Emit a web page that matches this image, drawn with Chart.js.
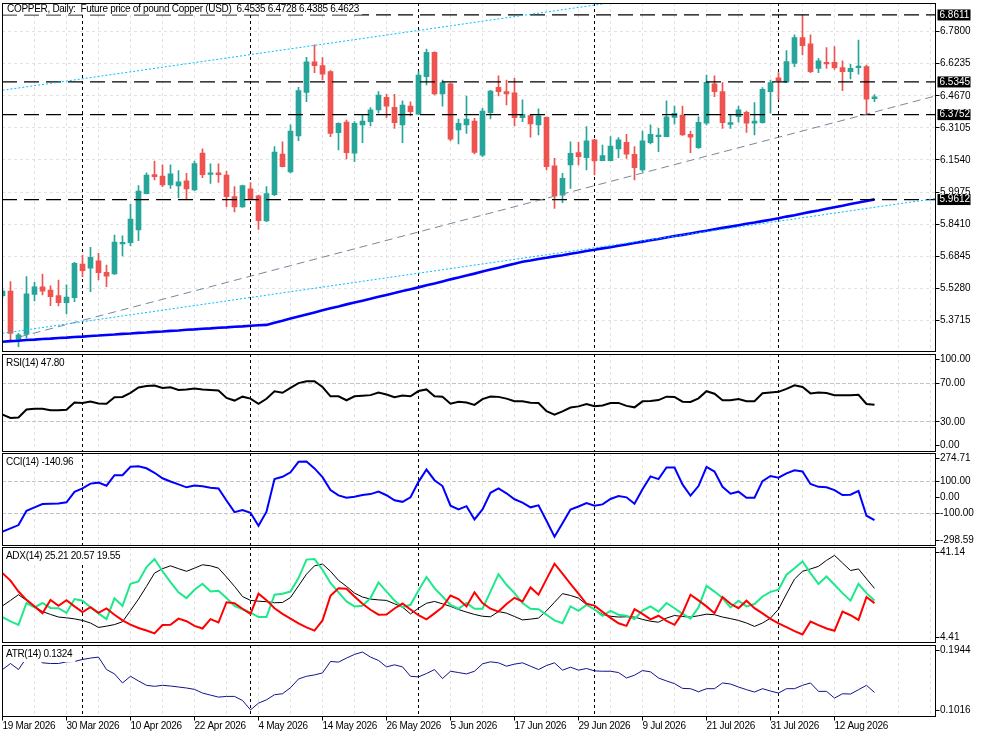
<!DOCTYPE html>
<html>
<head>
<meta charset="utf-8">
<title>COPPER Daily</title>
<script src="https://cdn.jsdelivr.net/npm/chart.js@4.4.1/dist/chart.umd.min.js"></script>
<style>
  body { margin: 0; background: #fff; }
  #wrap { position: relative; width: 983px; height: 737px; overflow: hidden; background: #fff; }
  #wrap canvas { position: absolute; left: 0; }
</style>
</head>
<body>
<div id="wrap">
  <canvas id="mainPane"></canvas>
  <canvas id="rsiPane"></canvas>
  <canvas id="cciPane"></canvas>
  <canvas id="adxPane"></canvas>
  <canvas id="atrPane"></canvas>
</div>
<script>
// ---- data (daily bars, 19 Mar 2026 .. 19 Aug 2026) ----
const open = [
  5.493, 5.515, 5.276, 5.304, 5.499, 5.535, 5.520, 5.493, 5.458, 5.483,
  5.647, 5.626, 5.662, 5.606, 5.598, 5.745, 5.751, 5.813, 5.990, 6.083,
  6.076, 6.032, 6.027, 6.052, 6.008, 6.188, 6.084, 6.091, 6.081, 5.975,
  5.925, 6.013, 5.979, 5.857, 5.985, 6.183, 6.096, 6.271, 6.484, 6.633,
  6.614, 6.585, 6.287, 6.339, 6.187, 6.325, 6.341, 6.398, 6.460, 6.411,
  6.325, 6.417, 6.378, 6.560, 6.679, 6.476, 6.525, 6.300, 6.325, 6.344,
  6.178, 6.385, 6.508, 6.487, 6.482, 6.360, 6.370, 6.325, 6.362, 6.126,
  5.983, 6.130, 6.190, 6.165, 6.252, 6.151, 6.151, 6.208, 6.240, 6.182,
  6.105, 6.239, 6.268, 6.268, 6.362, 6.373, 6.279, 6.214, 6.333, 6.525,
  6.487, 6.328, 6.365, 6.386, 6.333, 6.336, 6.487, 6.555, 6.533, 6.625,
  6.751, 6.720, 6.601, 6.630, 6.630, 6.604, 6.585, 6.604, 6.609, 6.4535
];
const high = [
  5.524, 5.561, 5.309, 5.585, 5.558, 5.598, 5.540, 5.569, 5.545, 5.655,
  5.691, 5.728, 5.699, 5.642, 5.788, 5.784, 5.938, 6.029, 6.092, 6.149,
  6.130, 6.130, 6.102, 6.089, 6.149, 6.208, 6.135, 6.135, 6.100, 6.024,
  6.032, 6.044, 5.983, 6.024, 6.219, 6.243, 6.325, 6.508, 6.655, 6.715,
  6.653, 6.590, 6.335, 6.349, 6.341, 6.377, 6.409, 6.487, 6.474, 6.474,
  6.442, 6.438, 6.585, 6.695, 6.681, 6.544, 6.528, 6.354, 6.466, 6.357,
  6.406, 6.494, 6.564, 6.544, 6.552, 6.447, 6.373, 6.403, 6.365, 6.162,
  6.089, 6.243, 6.240, 6.317, 6.255, 6.227, 6.268, 6.263, 6.279, 6.219,
  6.295, 6.325, 6.308, 6.442, 6.417, 6.417, 6.295, 6.365, 6.568, 6.564,
  6.531, 6.373, 6.417, 6.393, 6.434, 6.507, 6.544, 6.580, 6.687, 6.764,
  6.8611, 6.764, 6.650, 6.702, 6.707, 6.637, 6.620, 6.739, 6.617, 6.4728
];
const low = [
  5.484, 5.268, 5.244, 5.285, 5.467, 5.496, 5.444, 5.442, 5.403, 5.463,
  5.585, 5.512, 5.569, 5.536, 5.596, 5.686, 5.735, 5.761, 5.988, 6.057,
  6.024, 6.016, 5.970, 5.962, 6.005, 6.068, 6.040, 6.045, 5.927, 5.901,
  5.923, 5.962, 5.816, 5.853, 5.980, 6.120, 6.091, 6.248, 6.438, 6.580,
  6.544, 6.268, 6.203, 6.159, 6.146, 6.239, 6.320, 6.382, 6.360, 6.308,
  6.239, 6.369, 6.376, 6.520, 6.471, 6.417, 6.248, 6.232, 6.284, 6.183,
  6.170, 6.354, 6.466, 6.422, 6.320, 6.341, 6.265, 6.276, 6.105, 5.918,
  5.946, 6.016, 6.130, 6.105, 6.081, 6.149, 6.149, 6.165, 6.162, 6.057,
  6.097, 6.232, 6.195, 6.266, 6.330, 6.274, 6.190, 6.211, 6.325, 6.463,
  6.308, 6.308, 6.338, 6.289, 6.276, 6.334, 6.382, 6.450, 6.531, 6.609,
  6.666, 6.580, 6.580, 6.601, 6.596, 6.492, 6.549, 6.573, 6.3752, 6.4385
];
const close = [
  5.515, 5.309, 5.301, 5.501, 5.536, 5.515, 5.488, 5.458, 5.486, 5.650,
  5.614, 5.680, 5.605, 5.588, 5.754, 5.753, 5.866, 6.003, 6.081, 6.073,
  6.032, 6.086, 6.047, 6.013, 6.136, 6.083, 6.092, 6.083, 5.975, 5.925,
  6.029, 5.964, 5.858, 5.990, 6.193, 6.122, 6.295, 6.492, 6.632, 6.614,
  6.573, 6.284, 6.333, 6.190, 6.333, 6.344, 6.398, 6.471, 6.417, 6.336,
  6.422, 6.390, 6.568, 6.679, 6.476, 6.531, 6.256, 6.333, 6.354, 6.191,
  6.393, 6.490, 6.487, 6.476, 6.360, 6.377, 6.330, 6.369, 6.122, 5.979,
  6.065, 6.187, 6.170, 6.247, 6.149, 6.175, 6.222, 6.252, 6.182, 6.117,
  6.247, 6.279, 6.276, 6.365, 6.382, 6.276, 6.265, 6.338, 6.533, 6.487,
  6.336, 6.336, 6.398, 6.333, 6.344, 6.499, 6.531, 6.541, 6.634, 6.751,
  6.711, 6.585, 6.637, 6.622, 6.604, 6.585, 6.601, 6.612, 6.451, 6.4623
];
const movingAvg = [
  5.268, 5.271, 5.273, 5.276, 5.278, 5.281, 5.283, 5.286, 5.288, 5.291,
  5.293, 5.296, 5.298, 5.301, 5.303, 5.306, 5.308, 5.311, 5.313, 5.316,
  5.318, 5.321, 5.323, 5.326, 5.328, 5.331, 5.333, 5.336, 5.338, 5.341,
  5.343, 5.346, 5.348, 5.350, 5.360, 5.370, 5.381, 5.391, 5.401, 5.411,
  5.421, 5.431, 5.440, 5.450, 5.459, 5.468, 5.477, 5.487, 5.496, 5.505,
  5.515, 5.524, 5.533, 5.543, 5.552, 5.562, 5.572, 5.581, 5.591, 5.600,
  5.610, 5.620, 5.629, 5.639, 5.648, 5.658, 5.664, 5.671, 5.677, 5.684,
  5.690, 5.697, 5.703, 5.710, 5.716, 5.723, 5.729, 5.736, 5.742, 5.749,
  5.756, 5.763, 5.769, 5.776, 5.783, 5.789, 5.796, 5.803, 5.809, 5.816,
  5.823, 5.829, 5.836, 5.843, 5.849, 5.856, 5.863, 5.870, 5.878, 5.885,
  5.893, 5.901, 5.908, 5.916, 5.924, 5.931, 5.939, 5.947, 5.954, 5.962
];
const rsi = [
  37.5, 34, 34.5, 42.7, 43.5, 43.5, 42, 42, 42.5, 50,
  49.5, 51, 49, 48.7, 55.4, 55.7, 60, 65.5, 67, 67.5,
  65, 65.6, 63, 63.5, 64.5, 63.3, 63, 62.3, 54.7, 52,
  56, 54, 48.7, 53.8, 61.6, 60, 65, 70, 72, 72,
  66, 56.4, 56.4, 52.3, 56.4, 57, 57.6, 60.3, 58.2, 55.4,
  57.2, 56.4, 61.8, 63.5, 56.5, 56, 48.8, 50.8, 50, 47.5,
  53.5, 56.2, 55.8, 54, 51.3, 51.3, 49.7, 49.5, 41, 37.5,
  40.8, 44.8, 46, 48.4, 46.1, 47, 49.5, 49.6, 46.5, 45,
  51.2, 51.6, 52.5, 56, 55.7, 50.8, 50.6, 54.3, 61.6, 59,
  52.3, 52.3, 53.6, 51.3, 51.3, 59.6, 60.4, 61, 64, 67.8,
  66, 59.4, 60.4, 59.8, 57.4, 57.4, 57.6, 58, 48.5, 47.80
];
const cci = [
  -213, -192, -172, -83, -62, -42, -40, -38, -31, 34,
  55, 85, 91, 72, 137, 137, 189, 193, 180, 152,
  118, 98, 80, 62, 73, 68, 60, 55, -20, -92,
  -79, -96, -176, -89, 113, 127, 155, 220, 222, 179,
  125, 45, 12, -3, 4, 14, 20, 36, 13, -18,
  -28, 0, 96, 172, 106, 70, -52, -75, -55, -137,
  -75, 28, 56, 25, -12, -33, -62, -50, -145, -244,
  -160, -76, -57, -35, -52, -44, -10, 8, 0, -40,
  50, 130, 113, 185, 185, 80, 10, 70, 188, 160,
  65, 22, 35, -3, -3, 100, 132, 122, 148, 168,
  160, 83, 65, 62, 45, 14, 16, 40, -114, -140.96
];
const adx = [
  18.5, 20.6, 22.8, 20.6, 18.3, 16.3, 15.2, 14.2, 13.9, 13.5,
  12.9, 11.9, 10.2, 10.7, 11.3, 12.4, 16.7, 21.1, 26.0, 31.1,
  32.8, 33.9, 32.8, 31.8, 33.0, 34.3, 33.9, 33.0, 29.6, 26.0,
  22.1, 20.6, 20.3, 20.1, 19.7, 19.8, 21.7, 26.2, 30.7, 33.9,
  34.6, 31.8, 28.3, 26.0, 23.4, 21.9, 21.1, 20.8, 20.6, 19.3,
  18.0, 15.4, 17.6, 19.5, 20.2, 19.3, 18.3, 17.1, 16.1, 15.2,
  14.5, 14.3, 16.3, 15.7, 14.4, 13.1, 13.4, 13.8, 16.6, 19.9,
  23.2, 22.5, 21.5, 19.0, 17.0, 15.2, 14.5, 14.2, 14.3, 14.2,
  13.3, 12.6, 12.2, 13.8, 14.8, 14.4, 14.2, 14.7, 15.3, 15.1,
  14.2, 13.6, 12.9, 11.9, 10.6, 11.9, 13.8, 17.2, 23.1, 28.8,
  31.8, 32.7, 33.7, 36.0, 37.9, 35.0, 32.1, 32.7, 28.9, 25.21
];
const plusDI = [
  14.2, 12.5, 11.2, 19.6, 17.9, 19.6, 17.7, 17.6, 15.8, 21.1,
  20.5, 18.0, 15.6, 13.4, 21.4, 18.5, 27.0, 27.9, 33.4, 36.5,
  31.8, 27.6, 23.7, 21.5, 24.7, 27.0, 24.0, 24.3, 21.5, 18.5,
  17.2, 15.9, 14.2, 14.2, 22.8, 23.2, 24.0, 29.2, 36.3, 36.5,
  32.4, 27.3, 23.7, 20.2, 18.3, 18.5, 21.5, 27.5, 24.0, 20.6,
  18.0, 18.9, 24.4, 29.6, 25.3, 22.1, 18.9, 17.4, 19.6, 17.4,
  17.4, 24.0, 30.7, 26.6, 23.4, 19.6, 17.4, 17.2, 15.1, 12.9,
  11.8, 18.3, 16.6, 18.9, 17.2, 14.7, 16.6, 15.1, 14.7, 13.4,
  16.7, 18.3, 16.3, 19.6, 17.6, 15.4, 13.6, 17.9, 26.2, 24.0,
  21.5, 17.9, 20.5, 18.3, 19.2, 22.1, 23.9, 24.7, 30.5, 33.0,
  35.6, 31.1, 26.9, 29.8, 26.6, 23.4, 20.5, 27.0, 23.4, 20.57
];
const minusDI = [
  31.1, 28.2, 24.0, 20.8, 18.3, 15.7, 20.8, 18.5, 20.7, 18.3,
  16.1, 18.0, 15.8, 17.5, 15.1, 12.9, 11.3, 10.0, 9.0, 7.9,
  11.1, 11.2, 13.6, 12.6, 10.8, 9.8, 13.4, 12.1, 19.9, 19.5,
  17.4, 15.4, 23.2, 20.7, 17.6, 15.4, 13.6, 11.8, 10.2, 9.0,
  12.9, 22.4, 25.3, 25.1, 22.1, 19.3, 17.0, 15.1, 15.2, 17.5,
  19.4, 17.1, 14.9, 13.3, 15.6, 18.0, 22.5, 21.1, 18.3, 23.7,
  19.6, 17.4, 16.3, 19.2, 21.6, 20.2, 25.6, 22.8, 28.8, 34.7,
  30.9, 27.0, 23.2, 19.3, 18.6, 16.2, 13.9, 11.8, 10.8, 17.2,
  15.4, 13.3, 14.7, 12.7, 11.2, 15.7, 22.8, 20.6, 18.3, 15.7,
  21.9, 19.3, 17.6, 20.5, 17.6, 15.6, 13.5, 11.8, 10.3, 8.8,
  7.5, 12.5, 11.1, 9.8, 8.9, 16.3, 14.9, 13.1, 21.9, 19.55
];
const atr = [
  0.1623, 0.1702, 0.1623, 0.1777, 0.1799, 0.1711, 0.1702, 0.1702, 0.1724, 0.1729,
  0.1755, 0.1773, 0.1786, 0.1623, 0.1566, 0.1448, 0.1535, 0.1474, 0.1417, 0.1404,
  0.1417, 0.1408, 0.1395, 0.1382, 0.1364, 0.1316, 0.1289, 0.1263, 0.1272, 0.1272,
  0.1219, 0.1096, 0.1184, 0.1228, 0.1294, 0.1307, 0.1386, 0.1500, 0.1535, 0.1553,
  0.1579, 0.1729, 0.1720, 0.1773, 0.1821, 0.1852, 0.1786, 0.1742, 0.1658, 0.1685,
  0.1658, 0.1535, 0.1527, 0.1571, 0.1623, 0.1505, 0.1601, 0.1584, 0.1566, 0.1601,
  0.1698, 0.1724, 0.1711, 0.1667, 0.1694, 0.1711, 0.1667, 0.1623, 0.1676, 0.1711,
  0.1615, 0.1654, 0.1615, 0.1637, 0.1606, 0.1601, 0.1601, 0.1584, 0.1513, 0.1549,
  0.1610, 0.1593, 0.1513, 0.1474, 0.1439, 0.1377, 0.1373, 0.1333, 0.1373, 0.1373,
  0.1448, 0.1434, 0.1395, 0.1360, 0.1329, 0.1373, 0.1342, 0.1316, 0.1373, 0.1373,
  0.1417, 0.1448, 0.1338, 0.1338, 0.1250, 0.1307, 0.1303, 0.1360, 0.1417, 0.1324
];

// drawn objects: [bar, price]
const channelTop = [[0, 6.494], [116.6, 7.148]];
const channelBottom = [[0, 5.309], [116.6, 5.966]];
const trendLine = [[2.2, 5.292], [116.6, 6.466]];
const hLevels = [6.8611, 6.5345, 6.3752, 5.9612];
const vLines = [10, 31, 52, 74, 97];

// axis ticks
const dateLabels = ['19 Mar 2026', '30 Mar 2026', '10 Apr 2026', '22 Apr 2026', '4 May 2026',
  '14 May 2026', '26 May 2026', '5 Jun 2026', '17 Jun 2026', '29 Jun 2026', '9 Jul 2026',
  '21 Jul 2026', '31 Jul 2026', '12 Aug 2026'];
const priceTicks = [5.3715, 5.5280, 5.6845, 5.8410, 5.9975, 6.1540, 6.3105, 6.4670, 6.6235, 6.7800];
const rsiTicks = [100, 70, 30, 0];
const cciTicks = [274.71, 100, 0, -100, -298.59];
const adxTicks = [41.14, 4.41];
const atrTicks = [0.1944, 0.1016];

// ---- layout ----
const X_MIN = -0.0625, X_MAX = 116.625;
const LABEL_EVERY = 8, GRID_EVERY = 4;
const UP = '#26a69a', DOWN = '#ef5350';
const FONT = '10px "Liberation Sans", Arial, sans-serif';

function hline(ctx, x1, y1, x2, y2) {
  ctx.beginPath(); ctx.moveTo(x1, y1); ctx.lineTo(x2, y2); ctx.stroke();
}

function decor(cfg) {
  return {
    id: 'decor',
    beforeDatasetsDraw(chart) {
      const { ctx, chartArea: a } = chart;
      const xs = chart.scales.x, ys = chart.scales.y;
      ctx.save();
      ctx.beginPath();
      ctx.rect(a.left, a.top, a.right - a.left, a.bottom - a.top);
      ctx.clip();
      ctx.lineWidth = 1;
      ctx.strokeStyle = '#e2e2e2';
      ctx.setLineDash([3, 3]);
      for (let i = 0; i <= X_MAX; i += GRID_EVERY) {
        const px = Math.floor(xs.getPixelForValue(i)) + 0.5;
        hline(ctx, px, a.top, px, a.bottom);
      }
      ctx.strokeStyle = cfg.gridColor || '#e2e2e2';
      ctx.setLineDash(cfg.gridDash || [3, 3]);
      (cfg.grid || []).forEach(v => {
        const py = Math.floor(ys.getPixelForValue(v)) + 0.5;
        hline(ctx, a.left, py, a.right, py);
      });
      ctx.strokeStyle = '#000';
      ctx.setLineDash([3, 3]);
      vLines.forEach(b => {
        const px = Math.floor(xs.getPixelForValue(b)) + 0.5;
        hline(ctx, px, a.top, px, a.bottom);
      });
      ctx.restore();
    },
    afterDraw(chart) {
      const { ctx, chartArea: a } = chart;
      const xs = chart.scales.x, ys = chart.scales.y;
      ctx.save();
      ctx.lineWidth = 1;
      ctx.strokeStyle = '#000';
      ctx.setLineDash([]);
      const l = Math.floor(a.left) + 0.5, r = Math.floor(a.right) + 0.5;
      const t = Math.floor(a.top) + 0.5, b = Math.floor(a.bottom) + 0.5;

      ctx.font = FONT;
      ctx.textBaseline = 'middle';
      ctx.textAlign = 'left';

      // title on a white strip, like the terminal does
      ctx.letterSpacing = '-0.3px';
      const tw = ctx.measureText(cfg.title).width;
      ctx.fillStyle = '#fff';
      ctx.fillRect(a.left + 1, a.top + 1, tw + cfg.titleX + 2, cfg.titleY * 2 - 2);
      ctx.fillStyle = '#000';
      ctx.fillText(cfg.title, a.left + cfg.titleX, a.top + cfg.titleY);

      ctx.strokeRect(l, t, r - l, b - t);

      ctx.letterSpacing = '0px';
      cfg.ticks.forEach(v => {
        const py = ys.getPixelForValue(v);
        const ly = Math.min(Math.max(py, a.top + 5), a.bottom - 5.5);
        hline(ctx, r, Math.floor(ly) + 0.5, r + 4, Math.floor(ly) + 0.5);
        ctx.fillText(v.toFixed(cfg.digits), r + 4.5, ly);
      });

      (cfg.levels || []).forEach(v => {
        const py = ys.getPixelForValue(v);
        ctx.fillStyle = '#000';
        ctx.fillRect(r + 2, py - 5.5, 33, 11);
        ctx.fillStyle = '#fff';
        ctx.fillText(v.toFixed(4), r + 4, py);
      });

      ctx.fillStyle = '#000';
      if (cfg.dates) {
        ctx.letterSpacing = '-0.3px';
        dateLabels.forEach((txt, k) => {
          const px = Math.floor(xs.getPixelForValue(k * LABEL_EVERY)) + 0.5;
          hline(ctx, px, b, px, b + 4);
          ctx.fillText(txt, px, b + 9.5);
        });
      }
      ctx.restore();
    }
  };
}

function series(values) {
  return values.map((v, i) => ({ x: i, y: v }));
}
function segment(points) {
  return points.map(p => ({ x: p[0], y: p[1] }));
}
function lineSet(data, color, width, extra) {
  return Object.assign({
    type: 'line', data: data, borderColor: color, borderWidth: width,
    pointRadius: 0, tension: 0, fill: false, clip: 0, order: 0
  }, extra || {});
}

function pane(id, top, height, pad, type, datasets, yMin, yMax, cfg) {
  const canvas = document.getElementById(id);
  canvas.width = 983;
  canvas.height = height;
  canvas.style.top = top + 'px';
  canvas.style.width = '983px';
  canvas.style.height = height + 'px';
  return new Chart(canvas, {
    type: type,
    data: { datasets: datasets },
    options: {
      responsive: false,
      devicePixelRatio: 1,
      animation: false,
      events: [],
      layout: { padding: { left: 2, right: 47.5, top: pad[0], bottom: pad[1] } },
      scales: {
        x: { type: 'linear', min: X_MIN, max: X_MAX, offset: false, display: false },
        y: { type: 'linear', min: yMin, max: yMax, display: false }
      },
      plugins: { legend: { display: false }, tooltip: { enabled: false } }
    },
    plugins: [decor(cfg)]
  });
}

// ---- main price pane ----
const bars = close.map((c, i) => i);
const candleColors = bars.map(i => close[i] >= open[i] ? UP : DOWN);
const mainSets = [
  {
    type: 'bar', data: bars.map(i => ({ x: i, y: [low[i], high[i]] })),
    backgroundColor: candleColors, barThickness: 1, grouped: false,
    borderWidth: 0, borderSkipped: false, clip: 0, order: 3
  },
  {
    type: 'bar', data: bars.map(i => ({ x: i, y: [open[i], close[i]] })),
    backgroundColor: candleColors, barThickness: 5, grouped: false, minBarLength: 1,
    borderWidth: 0, borderSkipped: false, clip: 0, order: 2
  },
  lineSet(series(movingAvg), '#0000ff', 2.6, { order: 1 }),
  lineSet(segment(channelTop), '#00bfff', 1, { borderDash: [2, 2] }),
  lineSet(segment(channelBottom), '#00bfff', 1, { borderDash: [2, 2] }),
  lineSet(segment(trendLine), '#778899', 1, { borderDash: [8, 5] })
];
hLevels.forEach(v => {
  mainSets.push(lineSet([{ x: X_MIN, y: v }, { x: X_MAX, y: v }], '#000', 1.2, { borderDash: [15, 7] }));
});
const n = close.length - 1;
pane('mainPane', 0, 353, [3, 1.5], 'bar', mainSets, 5.2203, 6.9194, {
  ticks: priceTicks, digits: 4, grid: priceTicks, levels: hLevels,
  title: 'COPPER, Daily:  Future price of pound Copper (USD)  ' +
    [open[n], high[n], low[n], close[n]].map(v => v.toFixed(4)).join(' '),
  titleX: 5, titleY: 6.3
});

// ---- indicators ----
pane('rsiPane', 352, 100, [2, 1], 'line', [lineSet(series(rsi), '#000', 2)], 0, 100, {
  ticks: rsiTicks, digits: 2, grid: [70, 30], gridColor: '#c4c4c4', gridDash: [4, 2],
  title: 'RSI(14) ' + rsi[n].toFixed(2), titleX: 4, titleY: 9.5
});
pane('cciPane', 452, 94, [1, 0.5], 'line', [lineSet(series(cci), '#0000ff', 2)], -298.59, 274.71, {
  ticks: cciTicks, digits: 2, grid: [100, -100], gridColor: '#c4c4c4', gridDash: [4, 2],
  title: 'CCI(14) ' + cci[n].toFixed(2), titleX: 4, titleY: 9.5
});
pane('adxPane', 546, 98, [1, 1.5], 'line', [
  lineSet(series(adx), '#000', 1, { order: 2 }),
  lineSet(series(plusDI), '#1de98b', 2, { order: 1 }),
  lineSet(series(minusDI), '#ff0000', 2, { order: 0 })
], 4.41, 41.14, {
  ticks: adxTicks, digits: 2,
  title: 'ADX(14) ' + [adx[n], plusDI[n], minusDI[n]].map(v => v.toFixed(2)).join(' '),
  titleX: 4, titleY: 9.5
});
pane('atrPane', 644, 93, [1, 21], 'line', [lineSet(series(atr), '#12128c', 1)], 0.1016, 0.1944, {
  ticks: atrTicks, digits: 4, dates: true,
  title: 'ATR(14) ' + atr[n].toFixed(4), titleX: 4, titleY: 9
});
</script>
</body>
</html>
